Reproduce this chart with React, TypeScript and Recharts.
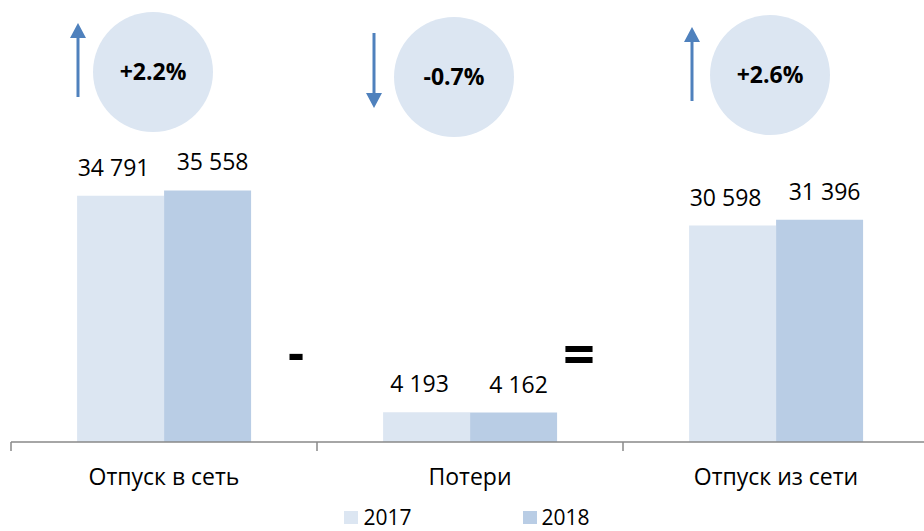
import React from 'react';
import { BarChart, Bar, XAxis, YAxis, LabelList, Legend, Customized } from 'recharts';

// ---- data ----
const categories = ['Отпуск в сеть', 'Потери', 'Отпуск из сети'];
const values2017 = [34791, 4193, 30598];
const values2018 = [35558, 4162, 31396];
const seriesNames = ['2017', '2018'];
const changeLabels = ['+2.2%', '-0.7%', '+2.6%'];
const changeDirections = ['up', 'down', 'up'];
const operators = ['-', '='];

const data = categories.map((c, i) => ({ name: c, y2017: values2017[i], y2018: values2018[i] }));

// ---- style / layout ----
const FONT = '"Open Sans", "Liberation Sans", sans-serif';
const COLORS = ['#DCE6F2', '#B9CDE5'];
const CIRCLE = '#DCE6F2';
const ARROW = '#4F81BD';
const AXIS = '#898989';

const W = 930;
const H = 531;
const MARGIN = { top: 159, right: 1, left: 11, bottom: 5 };
const PLOT_W = W - MARGIN.left - MARGIN.right;
const BAND = PLOT_W / categories.length;

// annotation layout relative to category centres
const circleDx = [-11, -16, -6];
const circleCy = [72, 77, 75];
const circleR = 60;
const arrowDx = [-86, -96, -84];
const arrowSpan = [[97, 23], [33, 108], [101, 27]]; // [tail, tip]
const operatorDx = [-21, -44]; // relative to category boundary
const operatorBaseline = [370, 374];
const operatorSize = [50, 56];

const fmt = (v: number) => String(v).replace(/\B(?=(\d{3})+(?!\d))/g, ' ');

const makeLabel = (dx: number) => (props: any) => {
  const { x, y, width, value } = props;
  return (
    <text x={Number(x) + Number(width) / 2 + dx} y={Number(y) - 20} textAnchor="middle" fontFamily={FONT} fontSize={23} fill="#000">
      {fmt(Number(value))}
    </text>
  );
};

const CategoryTick = (props: any) => {
  const { x, y, payload } = props;
  return (
    <g>
      <line x1={x - BAND / 2} x2={x - BAND / 2} y1={y} y2={y + 9} stroke={AXIS} strokeWidth={1.5} />
      <text x={x} y={y + 43} textAnchor="middle" fontFamily={FONT} fontSize={23} fill="#000">
        {payload.value}
      </text>
    </g>
  );
};

const Annotations = () => {
  return (
    <g>
      {changeLabels.map((t, i) => {
        const center = MARGIN.left + BAND * (i + 0.5);
        const cx = center + circleDx[i];
        const cy = circleCy[i];
        const ax = center + arrowDx[i];
        const [tail, tip] = arrowSpan[i];
        const dir = changeDirections[i] === 'up' ? -1 : 1;
        const headLen = 15;
        const headHalf = 8;
        const base = tip - dir * headLen;
        return (
          <g key={t}>
            <circle cx={cx} cy={cy} r={circleR} fill={CIRCLE} />
            <text x={cx} y={cy + 8} textAnchor="middle" fontFamily={FONT} fontWeight="bold" fontSize={23} fill="#000">
              {t}
            </text>
            <line x1={ax} x2={ax} y1={tail} y2={base} stroke={ARROW} strokeWidth={3} />
            <polygon points={`${ax - headHalf},${base} ${ax + headHalf},${base} ${ax},${tip}`} fill={ARROW} />
          </g>
        );
      })}
      {operators.map((op, i) => {
        const boundary = MARGIN.left + BAND * (i + 1);
        return (
          <text key={op} x={boundary + operatorDx[i]} y={operatorBaseline[i]} textAnchor="middle" fontFamily={FONT} fontWeight="bold" fontSize={operatorSize[i]} fill="#000">
            {op}
          </text>
        );
      })}
    </g>
  );
};

const renderLegend = () => (
  <div style={{ display: 'flex', justifyContent: 'center', fontFamily: FONT, fontSize: 21, color: '#000', lineHeight: '24px' }}>
    {seriesNames.map((n, i) => (
      <div key={n} style={{ display: 'flex', alignItems: 'center', marginLeft: i ? 111 : 0 }}>
        <span style={{ width: 14, height: 13, background: COLORS[i], marginRight: 5, display: 'inline-block' }} />
        <span>{n}</span>
      </div>
    ))}
  </div>
);

export default function App() {
  return (
    <div style={{ position: 'absolute', left: 0, top: 0, width: 924, height: 531, overflow: 'hidden', background: '#fff' }}>
      <BarChart width={W} height={H} data={data} margin={MARGIN} barCategoryGap="21.6%" barGap={0}>
        <YAxis hide domain={[0, 40000]} />
        <XAxis
          dataKey="name"
          height={60}
          interval={0}
          tickSize={0}
          tickMargin={0}
          tickLine={false}
          axisLine={{ stroke: AXIS, strokeWidth: 1.5 }}
          tick={<CategoryTick />}
        />
        <Legend
          verticalAlign="bottom"
          height={24}
          content={renderLegend}
          wrapperStyle={{ left: 0, width: 934, top: 505 }}
        />
        <Bar dataKey="y2017" name={seriesNames[0]} fill={COLORS[0]} isAnimationActive={false}>
          <LabelList dataKey="y2017" content={makeLabel(-7)} />
        </Bar>
        <Bar dataKey="y2018" name={seriesNames[1]} fill={COLORS[1]} isAnimationActive={false}>
          <LabelList dataKey="y2018" content={makeLabel(5)} />
        </Bar>
        <Customized component={<Annotations />} />
      </BarChart>
    </div>
  );
}
